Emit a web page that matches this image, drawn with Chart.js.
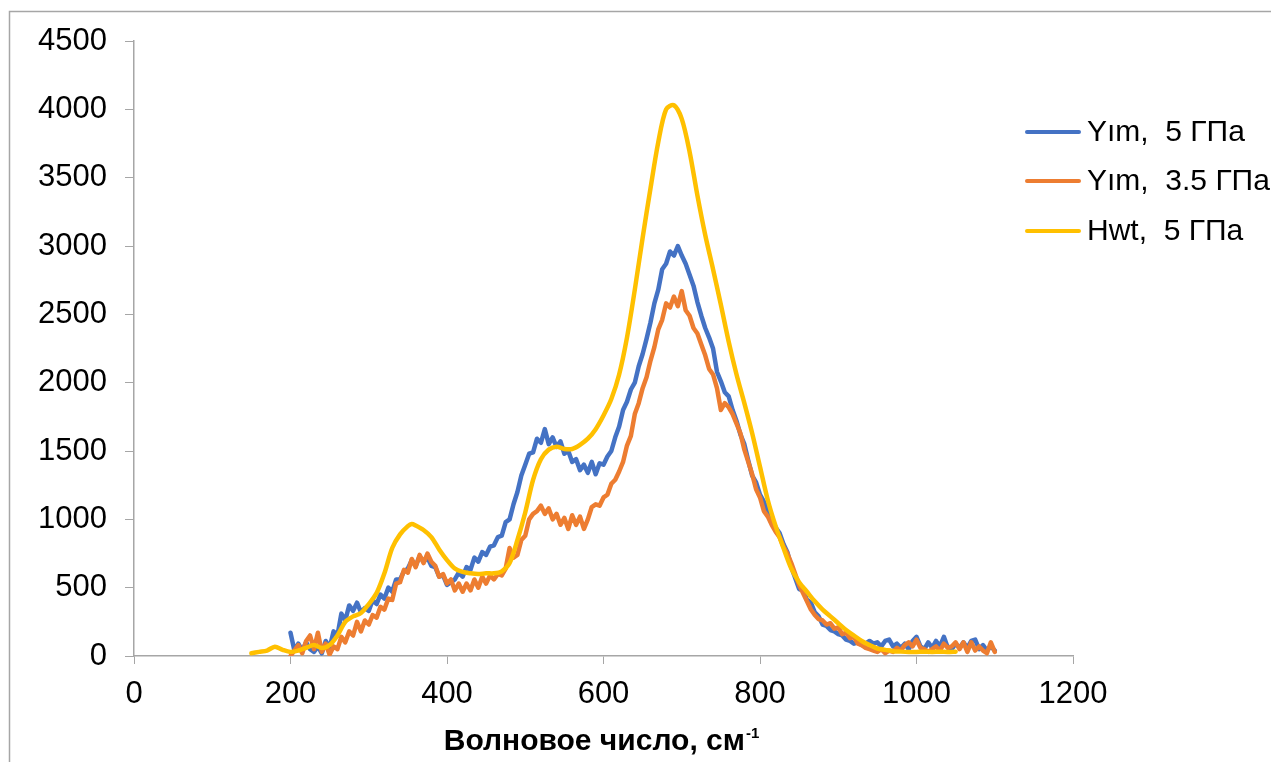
<!DOCTYPE html>
<html lang="ru">
<head>
  <meta charset="UTF-8"/>
  <title>Волновое число</title>
  <script src="https://cdn.jsdelivr.net/npm/chart.js"></script>
  <style>
    html, body { margin: 0; padding: 0; background: #fff; }
    #wrap { width: 1271px; height: 762px; }
  </style>
</head>
<body>
  <div id="wrap"><canvas id="spectrum" width="1271" height="762"></canvas></div>

  <script>
    // wavenumber grid shared by the two Yim spectra
    const waveYim = [
      200, 205, 210, 215, 220, 225, 230, 235, 240, 245, 250, 255, 260, 265, 270, 275, 280, 285, 290, 295,
      300, 305, 310, 315, 320, 325, 330, 335, 340, 345, 350, 355, 360, 365, 370, 375, 380, 385, 390, 395,
      400, 405, 410, 415, 420, 425, 430, 435, 440, 445, 450, 455, 460, 465, 470, 475, 480, 485, 490, 495,
      500, 505, 510, 515, 520, 525, 530, 535, 540, 545, 550, 555, 560, 565, 570, 575, 580, 585, 590, 595,
      600, 605, 610, 615, 620, 625, 630, 635, 640, 645, 650, 655, 660, 665, 670, 675, 680, 685, 690, 695,
      700, 705, 710, 715, 720, 725, 730, 735, 740, 745, 750, 755, 760, 765, 770, 775, 780, 785, 790, 795,
      800, 805, 810, 815, 820, 825, 830, 835, 840, 845, 850, 855, 860, 865, 870, 875, 880, 885, 890, 895,
      900, 905, 910, 915, 920, 925, 930, 935, 940, 945, 950, 955, 960, 965, 970, 975, 980, 985, 990, 995,
      1000, 1005, 1010, 1015, 1020, 1025, 1030, 1035, 1040, 1045, 1050, 1055, 1060, 1065, 1070, 1075, 1080, 1085, 1090, 1095,
      1100
    ];

    // Yim, 5 ГПа
    const yim5 = [
      170, 40, 90, 40, 100, 50, 30, 70, 20, 110, 60, 180, 150, 310, 260, 370, 330, 390, 320, 350,
      330, 410, 380, 450, 420, 500, 470, 560, 560, 620, 640, 700, 660, 730, 690, 720, 660, 650, 580, 590,
      520, 540, 560, 610, 580, 650, 630, 720, 690, 760, 740, 800, 810, 870, 880, 980, 1000, 1110, 1200, 1320,
      1400, 1480, 1490, 1590, 1560, 1660, 1550, 1600, 1530, 1570, 1480, 1500, 1420, 1440, 1360, 1400, 1340, 1420, 1330, 1410,
      1400, 1460, 1500, 1600, 1680, 1800, 1860, 1950, 2000, 2120, 2210, 2320, 2440, 2580, 2680, 2830, 2870, 2960, 2930, 3000,
      2930, 2870, 2790, 2710, 2590, 2490, 2400, 2330, 2250, 2080, 2010, 1930, 1900, 1800, 1720, 1620, 1550, 1430, 1320, 1270,
      1180, 1130, 1050, 1010, 940, 900, 820, 760, 650, 570, 490, 480, 410, 390, 320, 290, 230, 220, 190, 180,
      160, 150, 120, 110, 90, 100, 80, 90, 110, 90, 100, 70, 110, 120, 70, 90, 60, 90, 50, 110,
      140, 70, 50, 100, 60, 110, 70, 140, 60, 50, 90, 60, 100, 60, 110, 120, 50, 80, 40, 70,
      40
    ];

    // Yim, 3.5 ГПа
    const yim35 = [
      0, 40, 80, 20, 110, 150, 50, 170, 30, 90, 10, 70, 50, 140, 100, 180, 150, 250, 180, 260,
      230, 300, 280, 360, 340, 420, 410, 530, 540, 630, 610, 710, 650, 740, 680, 750, 690, 660, 580, 600,
      530, 560, 480, 530, 470, 530, 480, 560, 500, 580, 530, 590, 560, 600, 590, 640, 790, 720, 740, 850,
      880, 1000, 1040, 1060, 1100, 1040, 1080, 1000, 1040, 960, 1010, 930, 1030, 960, 1020, 930, 1000, 1090, 1110, 1100,
      1160, 1180, 1260, 1290, 1350, 1420, 1540, 1610, 1770, 1850, 1960, 2040, 2160, 2260, 2390, 2460, 2580, 2550, 2630, 2560,
      2670, 2530, 2490, 2400, 2360, 2280, 2200, 2100, 2060, 1960, 1800, 1850, 1820, 1770, 1700, 1630, 1510, 1420, 1330, 1220,
      1160, 1060, 1020, 960, 910, 870, 800, 750, 680, 600, 520, 460, 400, 340, 300, 270, 260, 230, 240, 200,
      210, 160, 170, 130, 140, 90, 80, 60, 50, 40, 30, 50, 20, 40, 30, 60, 40, 80, 100, 70,
      120, 60, 50, 30, 50, 70, 40, 90, 60, 70, 100, 50, 100, 30, 100, 40, 70, 40, 20, 100,
      30
    ];

    // Hwt, 5 ГПа (smoother, coarser grid)
    const waveHwt = [
      150, 160, 170, 180, 190, 200, 210, 220, 230, 240, 250, 260, 270, 280, 290, 300, 310, 320, 330, 340,
      350, 355, 360, 370, 380, 390, 400, 410, 420, 430, 440, 450, 460, 470, 480, 490, 500, 510, 520, 530,
      540, 550, 560, 570, 580, 590, 600, 610, 620, 630, 640, 650, 660, 670, 680, 690, 700, 710, 720, 730,
      740, 750, 760, 770, 780, 790, 800, 810, 820, 830, 840, 850, 860, 870, 880, 890, 900, 910, 920, 930,
      940, 950, 960, 970, 980, 990, 1000, 1010, 1020, 1030, 1040, 1050
    ];
    const hwt5 = [
      20, 30, 40, 68, 45, 30, 40, 60, 80, 58, 80, 150, 250, 290, 314, 380, 460, 605, 790, 890,
      950, 966, 955, 922, 870, 780, 702, 640, 615, 605, 600, 605, 605, 620, 680, 849, 1050, 1288, 1440, 1510,
      1531, 1515, 1515, 1545, 1590, 1660, 1760, 1880, 2060, 2330, 2680, 3060, 3420, 3760, 4000, 4030, 3930, 3690, 3370, 3080,
      2830, 2570, 2300, 2060, 1850, 1630, 1385, 1140, 950, 790, 640, 540, 470, 400, 340, 290, 240, 190, 150, 110,
      80, 55, 45, 35, 32, 30, 30, 32, 30, 32, 30, 32
    ];

    const seriesNames = ['Yım,  5 ГПа', 'Yım,  3.5 ГПа', 'Hwt,  5 ГПа'];
    const seriesColors = ['#4472C4', '#ED7D31', '#FFC000'];
    const yTicks = [0, 500, 1000, 1500, 2000, 2500, 3000, 3500, 4000, 4500];
    const xTicks = [0, 200, 400, 600, 800, 1000, 1200];
    const xTitle = 'Волновое число, см';
    const xTitleSup = '-1';

    const toPoints = (xs, ys) => xs.map((x, i) => ({ x: x, y: ys[i] }));

    const FONT = "'Liberation Sans', Arial, sans-serif";
    const AXIS = '#a6a6a6';

    // white page with the chart frame (only its top and left edges fall inside the canvas)
    const framePlugin = {
      id: 'frame',
      beforeDraw(chart) {
        const ctx = chart.ctx;
        ctx.save();
        ctx.fillStyle = '#fff';
        ctx.fillRect(0, 0, chart.width, chart.height);
        ctx.strokeStyle = '#a6a6a6';
        ctx.lineWidth = 1.5;
        ctx.beginPath();
        ctx.moveTo(9.5, chart.height);
        ctx.lineTo(9.5, 11.5);
        ctx.lineTo(chart.width, 11.5);
        ctx.stroke();
        ctx.restore();
      }
    };

    // axis title with superscript, and the legend block at the right
    const labelsPlugin = {
      id: 'labels',
      afterDraw(chart) {
        const ctx = chart.ctx;
        ctx.save();

        ctx.fillStyle = '#000';
        ctx.textBaseline = 'alphabetic';
        ctx.font = 'bold 30px ' + FONT;
        const w1 = ctx.measureText(xTitle).width;
        ctx.font = 'bold 15px ' + FONT;
        const w2 = ctx.measureText(xTitleSup).width;
        const x0 = 601 - (w1 + w2) / 2;
        ctx.font = 'bold 30px ' + FONT;
        ctx.fillText(xTitle, x0, 750);
        ctx.font = 'bold 15px ' + FONT;
        ctx.fillText(xTitleSup, x0 + w1 + 1, 738);

        ctx.font = '30px ' + FONT;
        ctx.textBaseline = 'middle';
        const rows = [132, 181, 231];
        chart.data.datasets.forEach((ds, i) => {
          const y = rows[i];
          ctx.strokeStyle = ds.borderColor;
          ctx.lineWidth = 4;
          ctx.lineCap = 'round';
          ctx.beginPath();
          ctx.moveTo(1027, y);
          ctx.lineTo(1079, y);
          ctx.stroke();
          ctx.fillStyle = '#000';
          ctx.fillText(ds.label, 1087, y + 1);
        });
        ctx.restore();
      }
    };

    new Chart(document.getElementById('spectrum'), {
      type: 'line',
      data: {
        datasets: [
          { label: seriesNames[0], data: toPoints(waveYim, yim5), borderColor: seriesColors[0], order: 3 },
          { label: seriesNames[1], data: toPoints(waveYim, yim35), borderColor: seriesColors[1], order: 2 },
          { label: seriesNames[2], data: toPoints(waveHwt, hwt5), borderColor: seriesColors[2], order: 1, tension: 0.3 }
        ]
      },
      options: {
        responsive: false,
        animation: false,
        events: [],
        layout: { padding: { top: 41, right: 198, bottom: 0, left: 0 } },
        elements: {
          point: { radius: 0 },
          line: { borderWidth: 4.5, tension: 0, borderJoinStyle: 'round', borderCapStyle: 'round' }
        },
        plugins: {
          legend: { display: false },
          tooltip: { enabled: false }
        },
        scales: {
          x: {
            type: 'linear',
            min: 0,
            max: 1200,
            afterFit(scale) { scale.height = 106; },
            afterBuildTicks(scale) { scale.ticks = xTicks.map(v => ({ value: v })); },
            grid: { drawOnChartArea: false, drawTicks: true, tickLength: 8, color: AXIS },
            border: { display: true, color: AXIS, width: 1.5 },
            ticks: { color: '#000', font: { family: FONT, size: 31 }, padding: 12, maxRotation: 0, callback: v => String(v) }
          },
          y: {
            type: 'linear',
            min: 0,
            max: 4500,
            afterFit(scale) { scale.width = 134; },
            afterBuildTicks(scale) { scale.ticks = yTicks.map(v => ({ value: v })); },
            grid: { drawOnChartArea: false, drawTicks: true, tickLength: 9, color: AXIS },
            border: { display: true, color: AXIS, width: 1.5 },
            ticks: { color: '#000', font: { family: FONT, size: 31 }, padding: 18, callback: v => String(v) }
          }
        }
      },
      plugins: [framePlugin, labelsPlugin]
    });
  </script>
</body>
</html>
